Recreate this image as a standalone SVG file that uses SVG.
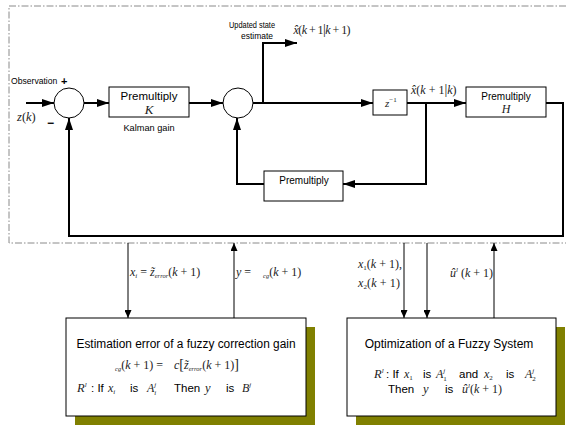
<svg xmlns="http://www.w3.org/2000/svg" width="566" height="425" viewBox="0 0 566 425">
<style>
.sans{font-family:"Liberation Sans",Arial,sans-serif;fill:#000}
.m{font-family:"Liberation Serif","Times New Roman",serif;font-style:italic;fill:#222}
.u{font-style:normal}
.box{fill:#fff;stroke:#000;stroke-width:1}
.thick{fill:none;stroke:#000;stroke-width:2}
.thin{fill:none;stroke:#000;stroke-width:1}
.border{fill:none;stroke:#8a8a8a;stroke-width:1;stroke-dasharray:7 2 1.5 2}
.shadow{fill:#808000}
</style>
<defs>
<marker id="ah" viewBox="0 0 12 8" refX="12" refY="4" markerWidth="12" markerHeight="8" markerUnits="userSpaceOnUse" orient="auto"><path d="M0,0 L12,4 L0,8 z" fill="#000"/></marker>
<marker id="at" viewBox="0 0 8 7" refX="8" refY="3.5" markerWidth="8" markerHeight="7" markerUnits="userSpaceOnUse" orient="auto"><path d="M0,0 L8,3.5 L0,7 z" fill="#000"/></marker>
</defs>
<rect width="566" height="425" fill="#fff"/>
<path class="border" d="M566,6 H9 V243 H566"/>

<g id="connectors">
<path class="thick" d="M26,103 H54" marker-end="url(#ah)"/>
<path class="thick" d="M84,103 H109" marker-end="url(#ah)"/>
<path class="thick" d="M189,103 H223" marker-end="url(#ah)"/>
<path class="thick" d="M253,103 H373" marker-end="url(#ah)"/>
<path class="thick" d="M263,103 V43 H297" marker-end="url(#ah)"/>
<path class="thick" d="M407,103 H466" marker-end="url(#ah)"/>
<path class="thick" d="M546,103 H563 V236 H69 V118" marker-end="url(#ah)"/>
<path class="thick" d="M426,103 V184 H343" marker-end="url(#ah)"/>
<path class="thick" d="M264,184 H237 V118" marker-end="url(#ah)"/>
<path class="thin" d="M128,243 V318" marker-end="url(#at)"/>
<path class="thin" d="M234,318 V243" marker-end="url(#at)"/>
<path class="thin" d="M404,243 V318" marker-end="url(#at)"/>
<path class="thin" d="M427,243 V318" marker-end="url(#at)"/>
<path class="thin" d="M494,318 V243" marker-end="url(#at)"/>
</g>

<g id="sum1">
<circle cx="69" cy="103" r="15" class="box"/>
<text x="11" y="84" class="sans" font-size="8.6">Observation</text>
<text x="61" y="85" class="sans" font-size="11" font-weight="bold">+</text>
<text x="47" y="127" class="sans" font-size="12" font-weight="bold">−</text>
<text x="17" y="121" class="m" font-size="12.5">z<tspan class="u">(</tspan>k<tspan class="u">)</tspan></text>
</g>

<g id="gainK">
<rect x="109" y="87" width="80" height="30" class="box"/>
<text x="149" y="100" class="sans" font-size="11.5" text-anchor="middle">Premultiply</text>
<text x="149" y="114" class="m" font-size="13" text-anchor="middle">K</text>
<text x="149" y="131" class="sans" font-size="9.2" text-anchor="middle">Kalman gain</text>
</g>

<g id="sum2">
<circle cx="238" cy="103" r="15" class="box"/>
</g>

<g id="updated">
<text x="252" y="28" class="sans" font-size="9.5" text-anchor="middle" textLength="46" lengthAdjust="spacingAndGlyphs">Updated state</text>
<text x="257" y="39" class="sans" font-size="9.5" text-anchor="middle" textLength="32" lengthAdjust="spacingAndGlyphs">estimate</text>
<text x="293" y="34" class="m" font-size="12" textLength="57">x̂<tspan class="u">(</tspan>k<tspan class="u"> + 1</tspan><tspan class="u" font-size="14">|</tspan>k<tspan class="u"> + 1)</tspan></text>
</g>

<g id="delay">
<rect x="373" y="90" width="34" height="25" class="box"/>
<text x="385" y="107" class="m" font-size="11">z<tspan class="u" font-size="7" dy="-5">−1</tspan></text>
<text x="411" y="94" class="m" font-size="12">x̂<tspan class="u">(</tspan>k<tspan class="u"> + 1</tspan><tspan class="u" font-size="14">|</tspan>k<tspan class="u">)</tspan></text>
</g>

<g id="gainH">
<rect x="466" y="87" width="80" height="30" class="box"/>
<text x="506" y="100" class="sans" font-size="10" text-anchor="middle">Premultiply</text>
<text x="506" y="113" class="m" font-size="12" text-anchor="middle">H</text>
</g>

<g id="premult">
<rect x="264" y="171" width="79" height="30" class="box"/>
<text x="304" y="184" class="sans" font-size="10" text-anchor="middle">Premultiply</text>
</g>

<g id="labels">
<text x="130" y="276" class="m" font-size="12">x<tspan font-size="7" dy="2">i</tspan><tspan class="u" dy="-2"> = </tspan>z̃<tspan font-size="6.5" dy="2">error</tspan><tspan class="u" dy="-2">(</tspan>k<tspan class="u"> + 1)</tspan></text>
<text x="236" y="276" class="m" font-size="12">y<tspan class="u"> = </tspan><tspan font-size="6.5" dx="9" dy="2">cg</tspan><tspan class="u" dy="-2">(</tspan>k<tspan class="u"> + 1)</tspan></text>
<text x="358" y="268" class="m" font-size="12" textLength="44">x<tspan class="u" font-size="7" dy="2">1</tspan><tspan class="u" dy="-2">(</tspan>k<tspan class="u"> + 1),</tspan></text>
<text x="358" y="287" class="m" font-size="12" textLength="42">x<tspan class="u" font-size="7" dy="2">2</tspan><tspan class="u" dy="-2">(</tspan>k<tspan class="u"> + 1)</tspan></text>
<text x="450" y="277" class="m" font-size="12">û<tspan font-size="7" dy="-5">l</tspan><tspan class="u" dy="5"> (</tspan>k<tspan class="u"> + 1)</tspan></text>
</g>

<g id="fuzzyGain">
<rect x="75" y="327" width="240" height="98" class="shadow"/>
<rect x="66" y="318" width="240" height="98" class="box"/>
<text x="186" y="348" class="sans" font-size="12" text-anchor="middle" textLength="219" lengthAdjust="spacingAndGlyphs">Estimation error of a fuzzy correction gain</text>
<text x="115" y="369" class="m" font-size="12"><tspan font-size="6.5" dy="2">cg</tspan><tspan class="u" dy="-2">(</tspan>k<tspan class="u"> + 1) = </tspan><tspan dx="8">c</tspan><tspan class="u" font-size="14">[</tspan>z̃<tspan font-size="6.5" dy="2">error</tspan><tspan class="u" dy="-2">(</tspan>k<tspan class="u"> + 1)</tspan><tspan class="u" font-size="14">]</tspan></text>
<text x="77" y="392" class="m" font-size="12.5">R<tspan font-size="7" dy="-5">l</tspan></text>
<text x="91" y="392" class="sans" font-size="11.5">: If</text>
<text x="108" y="392" class="m" font-size="12">x<tspan font-size="7" dy="2">i</tspan></text>
<text x="130" y="392" class="sans" font-size="11.5">is</text>
<text x="147" y="392" class="m" font-size="12">A<tspan font-size="7" dy="-5">j</tspan><tspan font-size="7" dx="-2" dy="8">i</tspan></text>
<text x="174" y="392" class="sans" font-size="11.5">Then</text>
<text x="205" y="392" class="m" font-size="12.5">y</text>
<text x="226" y="392" class="sans" font-size="11.5">is</text>
<text x="242" y="392" class="m" font-size="12">B<tspan font-size="7" dy="-5">j</tspan></text>
</g>

<g id="fuzzyOpt">
<rect x="356" y="327" width="209" height="98" class="shadow"/>
<rect x="347" y="318" width="209" height="98" class="box"/>
<text x="449" y="348" class="sans" font-size="12" text-anchor="middle">Optimization of a Fuzzy System</text>
<text x="374" y="378" class="m" font-size="12.5">R<tspan font-size="7" dy="-5">l</tspan></text>
<text x="386" y="378" class="sans" font-size="11.5">: If</text>
<text x="404" y="378" class="m" font-size="12">x<tspan class="u" font-size="7" dy="2">1</tspan></text>
<text x="423" y="378" class="sans" font-size="11.5">is</text>
<text x="436" y="378" class="m" font-size="12">A<tspan font-size="7" dy="-5">j</tspan><tspan class="u" font-size="7" dx="-2" dy="8">1</tspan></text>
<text x="459" y="378" class="sans" font-size="11.5">and</text>
<text x="484" y="378" class="m" font-size="12">x<tspan class="u" font-size="7" dy="2">2</tspan></text>
<text x="506" y="378" class="sans" font-size="11.5">is</text>
<text x="525" y="378" class="m" font-size="12">A<tspan font-size="7" dy="-5">j</tspan><tspan class="u" font-size="7" dx="-2" dy="8">2</tspan></text>
<text x="388" y="393" class="sans" font-size="11.5">Then</text>
<text x="423" y="393" class="m" font-size="12.5">y</text>
<text x="445" y="393" class="sans" font-size="11.5">is</text>
<text x="462" y="393" class="m" font-size="12">û<tspan font-size="7" dy="-5">l</tspan><tspan class="u" dy="5">(</tspan>k<tspan class="u"> + 1)</tspan></text>
</g>
</svg>
